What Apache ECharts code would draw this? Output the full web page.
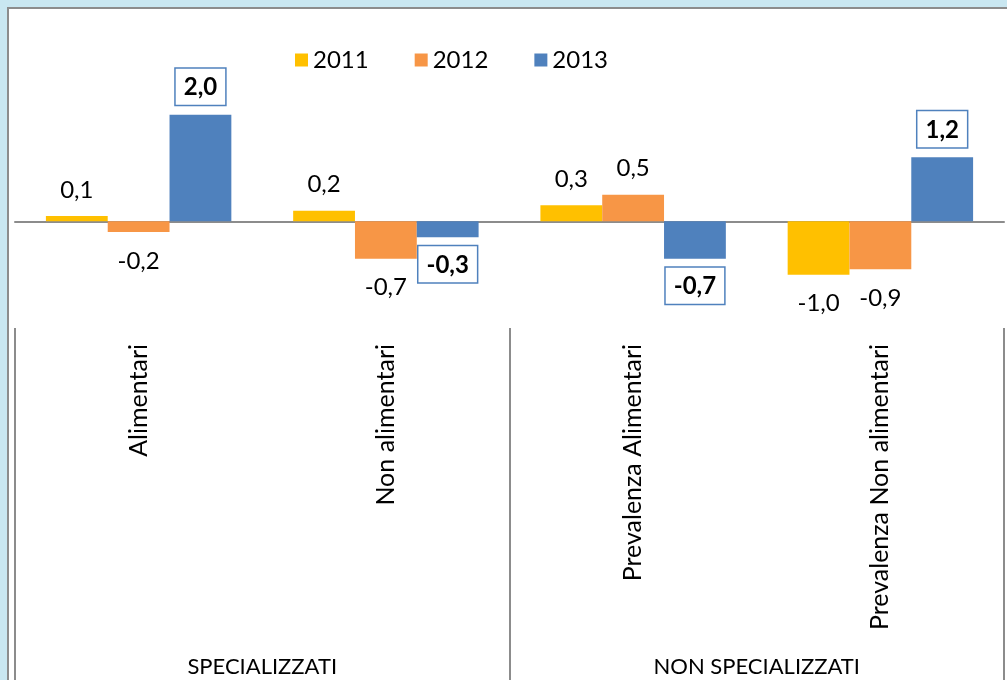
<!DOCTYPE html>
<html>
<head>
<meta charset="utf-8">
<script src="https://cdn.jsdelivr.net/npm/echarts@6/dist/echarts.min.js"></script>
<style>
  html, body { margin: 0; padding: 0; background: #c9e7f1; }
  #chart { width: 1007px; height: 680px; }
</style>
</head>
<body>
<div id="chart"></div>
<script>
// categories and values
var categories = ['Alimentari', 'Non alimentari', 'Prevalenza Alimentari', 'Prevalenza Non alimentari']
var groups = ['SPECIALIZZATI', 'NON SPECIALIZZATI']
var years = ['2011', '2012', '2013']
var v2011 = [0.1, 0.2, 0.3, -1.0]
var v2012 = [-0.2, -0.7, 0.5, -0.9]
var v2013 = [2.0, -0.3, -0.7, 1.2]

var FONT = 'Lato'
var fmt = function (p) { return p.value.toFixed(1).replace('.', ',') }

function items (arr, dTop, dBottom) {
  return arr.map(function (v) {
    return {
      value: v,
      label: { position: v < 0 ? 'bottom' : 'top', distance: v < 0 ? dBottom : dTop }
    }
  })
}

var plainLabel = {
  show: true,
  formatter: fmt,
  fontFamily: FONT,
  fontSize: 24,
  color: '#000'
}

var boxLabel = {
  show: true,
  formatter: fmt,
  fontFamily: FONT,
  fontSize: 24,
  fontWeight: 'bold',
  color: '#000',
  backgroundColor: '#fff',
  borderColor: '#4f81bd',
  borderWidth: 1.5,
  padding: [7, 8, 5, 8]
}

var chart = echarts.init(document.getElementById('chart'))
var option = {
  backgroundColor: '#c9e7f1',
  animation: false,
  graphic: [{
    type: 'rect',
    z: -100,
    shape: { x: 8, y: 8, width: 1100, height: 800 },
    style: { fill: '#fff', stroke: '#8c8c8c', lineWidth: 2 }
  }],
  legend: {
    data: years,
    left: 290,
    top: 43,
    itemWidth: 13,
    itemHeight: 13,
    itemGap: 46,
    icon: 'rect',
    textStyle: { fontFamily: FONT, fontSize: 24, color: '#000' }
  },
  grid: { left: 15, right: 3, top: 88, bottom: 352, containLabel: false },
  xAxis: [{
    type: 'category',
    data: categories,
    position: 'bottom',
    axisLine: { show: false, onZero: false },
    axisTick: { show: false },
    axisLabel: { rotate: 90, margin: 16, fontFamily: FONT, fontSize: 25, color: '#000' }
  }, {
    type: 'category',
    data: groups,
    position: 'bottom',
    axisLine: { show: false, onZero: false },
    axisTick: { show: true, length: 360, lineStyle: { color: '#8c8c8c', width: 2 } },
    axisLabel: { margin: 328, fontFamily: FONT, fontSize: 22, color: '#000' }
  }, {
    type: 'category',
    data: categories,
    axisLine: { show: true, onZero: true, lineStyle: { color: '#8c8c8c', width: 2 } },
    axisTick: { show: false },
    axisLabel: { show: false }
  }],
  yAxis: {
    type: 'value',
    min: -2,
    max: 2.5,
    show: false,
    splitLine: { show: false }
  },
  series: [{
    name: '2011',
    type: 'bar',
    barGap: '0%',
    barCategoryGap: '25%',
    itemStyle: { color: '#ffc000' },
    label: plainLabel,
    data: items(v2011, 14, 17)
  }, {
    name: '2012',
    type: 'bar',
    barGap: '0%',
    barCategoryGap: '25%',
    itemStyle: { color: '#f79646' },
    label: plainLabel,
    data: items(v2012, 14, 17)
  }, {
    name: '2013',
    type: 'bar',
    barGap: '0%',
    barCategoryGap: '25%',
    itemStyle: { color: '#4f81bd' },
    label: boxLabel,
    data: items(v2013, 10, 9)
  }]
}
chart.setOption(option)
</script>
</body>
</html>
